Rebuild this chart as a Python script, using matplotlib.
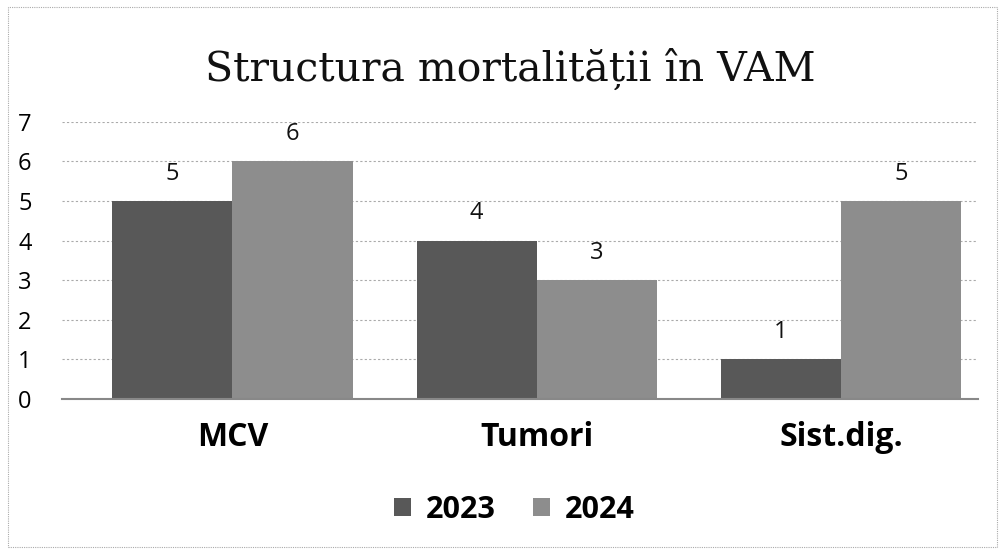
import matplotlib
matplotlib.use("Agg")
import matplotlib.pyplot as plt
import numpy as np
from matplotlib.patches import Rectangle

categories = ["MCV", "Tumori", "Sist.dig."]
series_names = ["2023", "2024"]
values_2023 = [5, 4, 1]
values_2024 = [6, 3, 5]
yticks = [0, 1, 2, 3, 4, 5, 6, 7]
title = "Structura mortalității în VAM"

colors = ["#585858", "#8d8d8d"]

fig = plt.figure(figsize=(10.01, 5.54), dpi=100)
ax = fig.add_axes([0.062, 0.28, 0.915, 0.5])

x = np.arange(len(categories))
w = 0.395
b1 = ax.bar(x - w/2, values_2023, w, color=colors[0], label=series_names[0])
b2 = ax.bar(x + w/2, values_2024, w, color=colors[1], label=series_names[1])

for bars in (b1, b2):
    ax.bar_label(bars, padding=11, fontsize=17, family="Open Sans", color="#111111")

ax.set_ylim(0, 7)
ax.set_yticks(yticks)
ax.set_xlim(-0.56, 2.45)
ax.set_xticks(x)
ax.set_xticklabels(categories, fontsize=23, fontweight="bold", family="Open Sans")
ax.tick_params(axis="x", length=0, pad=16)
ax.tick_params(axis="y", length=0, labelsize=17, pad=22)
for lab in ax.get_yticklabels():
    lab.set_family("Open Sans")

ax.yaxis.grid(True, linestyle=(0, (2, 2)), color="#aaaaaa", linewidth=0.8)
ax.set_axisbelow(True)
for s in ["top", "right", "left"]:
    ax.spines[s].set_visible(False)
ax.spines["bottom"].set_color("#888888")
ax.spines["bottom"].set_linewidth(1.5)

fig.text(0.51, 0.875, title, ha="center", va="center", fontsize=29.5,
         family="DejaVu Serif", color="#111111")

leg = fig.legend(loc="center", bbox_to_anchor=(0.514, 0.08), ncol=2, frameon=False,
                 prop={"family": "Open Sans", "weight": "bold", "size": 22},
                 handlelength=0.55, handleheight=0.55, handletextpad=0.5, columnspacing=1.2)

fig.patches.append(Rectangle((0.008, 0.012), 0.988, 0.975, transform=fig.transFigure,
                             fill=False, edgecolor="#aaaaaa", linestyle=(0, (1, 1)), linewidth=0.8))

fig.savefig("out.png", dpi=100)
